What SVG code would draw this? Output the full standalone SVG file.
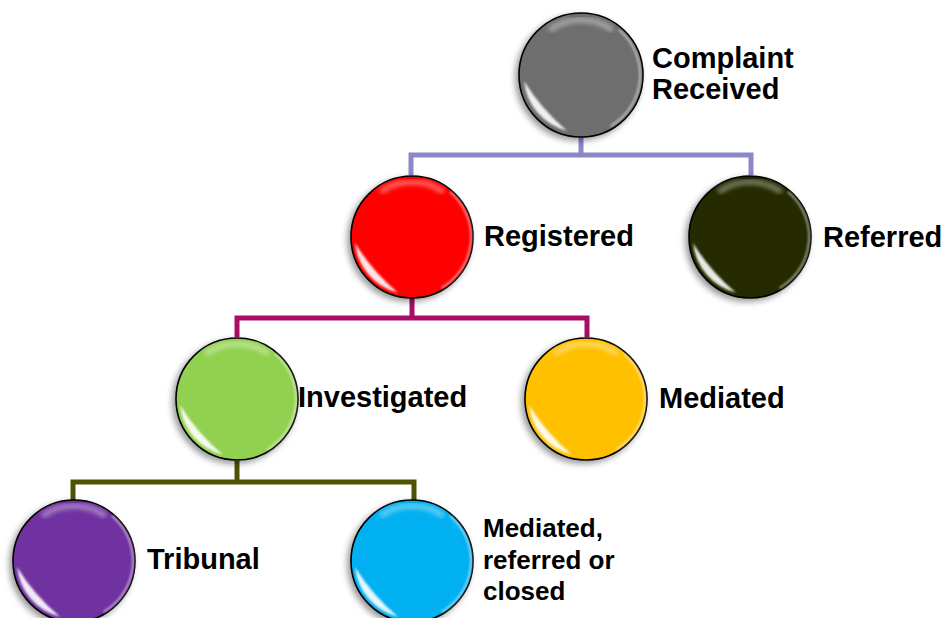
<svg xmlns="http://www.w3.org/2000/svg" xmlns:xlink="http://www.w3.org/1999/xlink" width="944" height="618" viewBox="0 0 944 618">
<style>
.lbl{font-family:"Liberation Sans",Arial,sans-serif;font-weight:bold;font-size:29px;fill:#000}
.lbl2{font-family:"Liberation Sans",Arial,sans-serif;font-weight:bold;font-size:26px;fill:#000}
.ball{stroke:#000;stroke-width:1.6;filter:url(#shadow)}
.conn{fill:none;stroke-width:5;stroke-linejoin:miter;stroke-linecap:butt}
</style>
<defs>
<filter id="shadow" x="-30%" y="-30%" width="160%" height="160%">
<feDropShadow dx="-3" dy="3" stdDeviation="3" flood-color="#000" flood-opacity="0.4"/>
</filter>
<filter id="blur1" x="-30%" y="-30%" width="160%" height="160%"><feGaussianBlur stdDeviation="1.3"/></filter>
<filter id="blur2" x="-30%" y="-30%" width="160%" height="160%"><feGaussianBlur stdDeviation="2"/></filter>
<g id="gloss">
<path d="M-57,6 A57.5,57.5 0 0 0 -14,55.8 Q-40,34 -57,6 Z" fill="#fff" opacity="0.9" filter="url(#blur1)"/>
<path d="M-31.5,-45 A55,55 0 0 1 31.5,-45" fill="none" stroke="#fff" stroke-width="6" opacity="0.35" filter="url(#blur2)"/>
<path d="M38,-45.3 A59,59 0 0 1 29.5,51.1" fill="none" stroke="#fff" stroke-width="2" opacity="0.55" filter="url(#blur1)"/>
</g>
</defs>
<rect width="944" height="618" fill="#fff"/>
<g id="connectors">
<path class="conn" stroke="#8C88C8" d="M581,137 V155 M411,175 V155 H751 V175"/>
<path class="conn" stroke="#AA0C66" d="M412,298 V318 M237,337 V318 H587 V337"/>
<path class="conn" stroke="#4F5200" d="M237,461 V482 M73,500 V482 H414 V500"/>
</g>
<g id="complaint">
<circle class="ball" cx="581" cy="75" r="62" fill="#6E6E6E"/>
<use xlink:href="#gloss" x="581" y="75"/>
<text class="lbl" x="652" y="68">Complaint</text>
<text class="lbl" x="652" y="99">Received</text>
</g>
<g id="registered">
<circle class="ball" cx="412" cy="237" r="61" fill="#FF0000"/>
<use xlink:href="#gloss" x="412" y="237"/>
<text class="lbl" x="484" y="246">Registered</text>
</g>
<g id="referred">
<circle class="ball" cx="750" cy="237" r="61" fill="#262A06"/>
<use xlink:href="#gloss" x="750" y="237"/>
<text class="lbl" x="823" y="247">Referred</text>
</g>
<g id="investigated">
<circle class="ball" cx="237" cy="399" r="61" fill="#92D050"/>
<use xlink:href="#gloss" x="237" y="399"/>
<text class="lbl" x="298" y="407">Investigated</text>
</g>
<g id="mediated">
<circle class="ball" cx="586" cy="399" r="61" fill="#FFC000"/>
<use xlink:href="#gloss" x="586" y="399"/>
<text class="lbl" x="659" y="408">Mediated</text>
</g>
<g id="tribunal">
<circle class="ball" cx="74" cy="561" r="61" fill="#7030A0"/>
<use xlink:href="#gloss" x="74" y="561"/>
<text class="lbl" x="147" y="569">Tribunal</text>
</g>
<g id="mediated-referred-closed">
<circle class="ball" cx="412" cy="561" r="61" fill="#00B0F0"/>
<use xlink:href="#gloss" x="412" y="561"/>
<text class="lbl2" x="483" y="537">Mediated,</text>
<text class="lbl2" x="483" y="569">referred or</text>
<text class="lbl2" x="483" y="600">closed</text>
</g>
</svg>
